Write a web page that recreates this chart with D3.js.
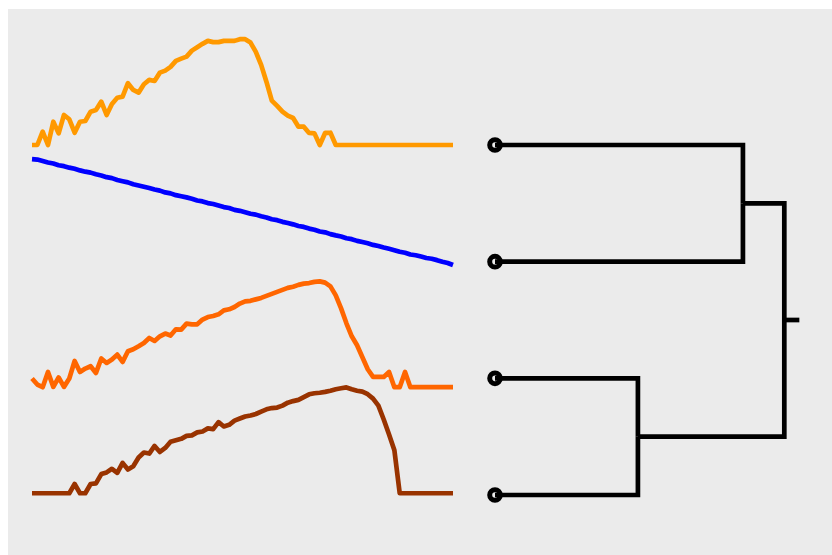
<!DOCTYPE html>
<html>
<head>
<meta charset="utf-8">
<script src="https://cdn.jsdelivr.net/npm/d3@7"></script>
<style>
  html, body { margin: 0; padding: 0; background: #ffffff; }
  svg { display: block; }
</style>
</head>
<body>
<div id="chart"></div>
<script>
// ---- data ----------------------------------------------------------------
// Four series, each sampled at 80 steps and rescaled to 0..100.
const steps = d3.range(80);

const seriesA = [0,0,12.6,0,22,11,28.4,24.3,11.6,22,
  22.7,31.5,33.1,41,28.4,38.8,44.7,45.7,58.4,52,
  49.5,57.4,61.5,60.5,68.4,70.3,73.8,79.5,81.6,83.5,
  89.2,92.4,95.6,98.4,97.2,97.2,98.4,98.4,98.4,100,
  100,96.8,88,75.7,59.6,41.9,36.9,31.5,27.7,25.5,
  17.3,17.3,11.4,11,0,11.4,11.6,0,0,0,
  0,0,0,0,0,0,0,0,0,0,
  0,0,0,0,0,0,0,0,0,0];

const seriesB = [100,99.6,98.2,96.9,95.9,94.3,93.4,92.0,90.9,89.4,
  88.2,87.3,85.7,84.6,83.0,82.1,80.4,79.2,78.1,76.3,
  75.2,74.0,72.8,71.4,70.3,68.6,67.7,66.0,64.9,63.9,
  62.6,61.0,60.1,58.5,57.6,56.2,54.7,53.9,52.1,51.2,
  49.9,48.4,47.6,46.0,44.9,43.2,42.4,40.8,39.7,38.4,
  36.9,36.0,34.4,33.3,31.7,30.9,29.2,28.0,27.0,25.3,
  24.4,22.8,21.7,20.5,19.0,17.9,16.5,15.3,14.0,12.5,
  11.6,9.9,9.2,8.0,6.6,5.9,4.6,3.1,1.9,0];

const seriesC = [8.2,2.5,0,14.4,0.3,9.2,0.3,8.2,24.8,14.4,
  17.6,19.8,13.5,27.1,22.9,26.1,30.8,23.9,34,35.8,
  38.7,41.8,46.5,43.7,48.1,50.7,48.8,54.7,54.4,60.1,
  59.4,59.4,63.9,66.3,67.3,68.9,72.6,73.6,75.8,79,
  81.1,81.6,83,84.4,86.3,88.2,90.1,92,93.9,95,
  96.7,97.9,98.4,99.5,100,98.8,95.3,86.8,74.5,60.4,
  48.1,39.6,28.3,17,9.7,9.7,9.7,14.4,0,0,
  14.4,0,0,0,0,0,0,0,0,0];

const seriesD = [0,0,0,0,0,0,0,0,8.7,0,
  0,8.7,9.4,18.1,19.7,23.1,19.3,28.7,22.5,25.6,
  33.8,38.5,37.5,44.7,39,42.8,48.6,50,51.4,54.2,
  54.7,57.5,58.4,61.3,60.6,67.2,63.1,64.7,68.6,70.6,
  72.5,73.5,74.9,77.2,79.3,80.5,81,82.8,85.6,87.1,
  88.2,90.8,93.5,94.5,95,95.8,96.9,98.3,99.2,100,
  98.3,96.9,96,93.6,89.4,82.8,69.7,55.6,40.6,0,
  0,0,0,0,0,0,0,0,0,0];

const seriesList = [seriesA, seriesB, seriesC, seriesD];
const seriesColors = ["#FF9900", "#0000FF", "#FF6600", "#993300"];

// Hierarchical clustering of the four series (leaf index order top to bottom)
const leafOrder = [0, 1, 2, 3];
const merges = [
  { id: "m1", children: [0, 1], height: 0.857 },
  { id: "m2", children: [2, 3], height: 0.494 },
  { id: "root", children: ["m1", "m2"], height: 1.0 }
];

// ---- layout --------------------------------------------------------------
const W = 832, H = 555;
const svg = d3.select("#chart").append("svg")
  .attr("width", W).attr("height", H);

svg.append("rect")
  .attr("x", 8).attr("y", 9)
  .attr("width", W - 8).attr("height", H - 9)
  .attr("fill", "#EBEBEB");

// Row position scale shared by the series strips and dendrogram leaves
const rowY = d3.scaleLinear().domain([1, 4]).range([145, 495]);
// Baseline (row units) where each strip's zero sits, and strip height
const stripBase = [1.0, 2.0286, 3.076, 3.985];
const stripHeight = d3.scaleLinear().domain([0, 100]).range([0, 0.907]);

const x = d3.scaleLinear().domain([0, 79]).range([32, 453]);

const strips = svg.append("g").attr("class", "strips");
seriesList.forEach((vals, r) => {
  const line = d3.line()
    .x((d, i) => x(steps[i]))
    .y(d => rowY(stripBase[r] - stripHeight(d)));
  strips.append("path")
    .datum(vals)
    .attr("d", line)
    .attr("fill", "none")
    .attr("stroke", seriesColors[r])
    .attr("stroke-width", 4.7)
    .attr("stroke-linejoin", "round")
    .attr("stroke-linecap", "butt");
});

// ---- dendrogram ----------------------------------------------------------
const hx = d3.scaleLinear().domain([0, 1]).range([495, 784.3]);
const stubLen = 0.052;

const nodes = {};
leafOrder.forEach((leaf, i) => {
  nodes[leaf] = { id: leaf, height: 0, pos: i + 1, children: null };
});
merges.forEach(m => {
  const kids = m.children.map(c => nodes[c]);
  nodes[m.id] = { id: m.id, height: m.height,
    pos: d3.mean(kids, k => k.pos), children: kids };
});
const root = d3.hierarchy(nodes["root"], d => d.children);

const dendro = svg.append("g").attr("class", "dendrogram");

// leaf markers
dendro.selectAll("circle.leaf")
  .data(root.leaves())
  .join("circle")
  .attr("class", "leaf")
  .attr("cx", d => hx(d.data.height))
  .attr("cy", d => rowY(d.data.pos))
  .attr("r", 5.3)
  .attr("fill", "none")
  .attr("stroke", "#000")
  .attr("stroke-width", 5);

// elbow links child -> parent
dendro.selectAll("path.link")
  .data(root.links())
  .join("path")
  .attr("class", "link")
  .attr("d", l => {
    const cx = hx(l.target.data.height), cy = rowY(l.target.data.pos);
    const px = hx(l.source.data.height), py = rowY(l.source.data.pos);
    return `M${cx},${cy}H${px}V${py}`;
  })
  .attr("fill", "none")
  .attr("stroke", "#000")
  .attr("stroke-width", 4.7)
  .attr("stroke-linejoin", "miter")
  .attr("stroke-linecap", "butt");

// root stub
dendro.append("path")
  .attr("d", `M${hx(root.data.height)},${rowY(root.data.pos)}H${hx(root.data.height + stubLen)}`)
  .attr("stroke", "#000")
  .attr("stroke-width", 4.7)
  .attr("fill", "none");
</script>
</body>
</html>
